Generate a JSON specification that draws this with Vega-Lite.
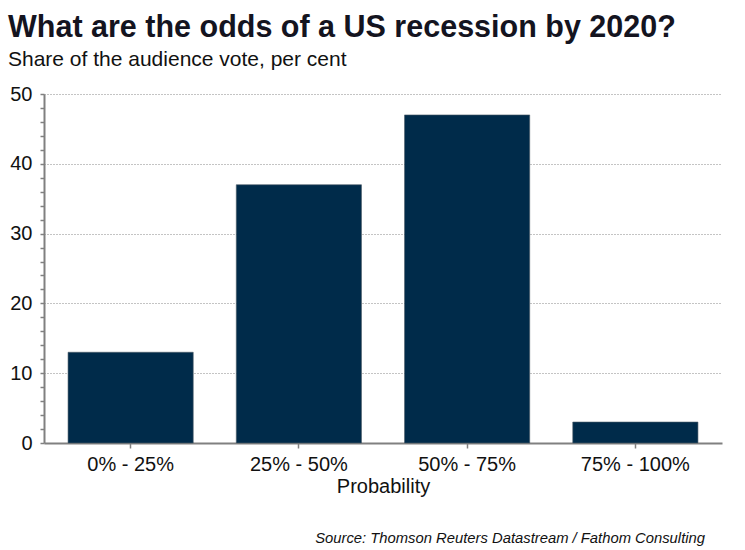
{
  "$schema": "https://vega.github.io/schema/vega-lite/v6.json",
  "autosize": "none",
  "width": 678,
  "height": 349,
  "padding": {"left": 44, "top": 94, "right": 23, "bottom": 107},
  "background": "white",
  "title": {
    "text": "What are the odds of a US recession by 2020?",
    "subtitle": "Share of the audience vote, per cent",
    "anchor": "start",
    "frame": "group",
    "dx": -36,
    "offset": 14,
    "font": "Liberation Sans",
    "fontSize": 30.5,
    "fontWeight": "bold",
    "color": "#14141f",
    "subtitleFont": "Liberation Sans",
    "subtitleFontSize": 21,
    "subtitleColor": "#111111",
    "subtitlePadding": 6
  },
  "config": {
    "view": {"stroke": null},
    "axis": {"labelFont": "Liberation Sans", "titleFont": "Liberation Sans", "labelColor": "#111111", "titleColor": "#111111"}
  },
  "layer": [
    {
      "data": {
        "values": [
          {"Probability": "0% - 25%", "Share": 13},
          {"Probability": "25% - 50%", "Share": 37},
          {"Probability": "50% - 75%", "Share": 47},
          {"Probability": "75% - 100%", "Share": 3}
        ]
      },
      "mark": {"type": "bar", "color": "#002B4A", "stroke": "#4a5a66", "strokeWidth": 0.6},
      "encoding": {
        "x": {
          "field": "Probability",
          "type": "nominal",
          "sort": null,
          "scale": {"paddingInner": 0.256, "paddingOuter": 0.143},
          "axis": {
            "title": "Probability",
            "labelAngle": 0,
            "labelFontSize": 20,
            "titleFontSize": 20,
            "titleFontWeight": "normal",
            "titlePadding": 2,
            "labelPadding": 6,
            "domainColor": "#808080",
            "domainWidth": 2,
            "tickColor": "#808080",
            "tickWidth": 1.5,
            "tickSize": 5,
            "grid": false
          }
        },
        "y": {
          "field": "Share",
          "type": "quantitative",
          "scale": {"domain": [0, 50], "nice": false},
          "axis": {
            "title": null,
            "values": [0, 2, 4, 6, 8, 10, 12, 14, 16, 18, 20, 22, 24, 26, 28, 30, 32, 34, 36, 38, 40, 42, 44, 46, 48, 50],
            "labelExpr": "datum.value % 10 === 0 ? datum.label : ''",
            "labelFontSize": 20,
            "labelPadding": 8,
            "domainColor": "#808080",
            "domainWidth": 2,
            "tickColor": "#808080",
            "tickWidth": 1.5,
            "tickSize": 4,
            "grid": true,
            "gridColor": "#888888",
            "gridDash": [1, 2],
            "gridWidth": 1,
            "gridOpacity": {"condition": {"test": "datum.value % 10 === 0 && datum.value > 0", "value": 1}, "value": 0}
          }
        }
      }
    },
    {
      "data": {"values": [{"note": "Source: Thomson Reuters Datastream / Fathom Consulting"}]},
      "mark": {
        "type": "text",
        "align": "right",
        "baseline": "alphabetic",
        "x": {"expr": "width"},
        "y": {"expr": "height"},
        "dx": -17,
        "dy": 100,
        "font": "Liberation Sans",
        "fontSize": 14.8,
        "fontStyle": "italic",
        "color": "#111111"
      },
      "encoding": {"text": {"field": "note"}}
    }
  ]
}
